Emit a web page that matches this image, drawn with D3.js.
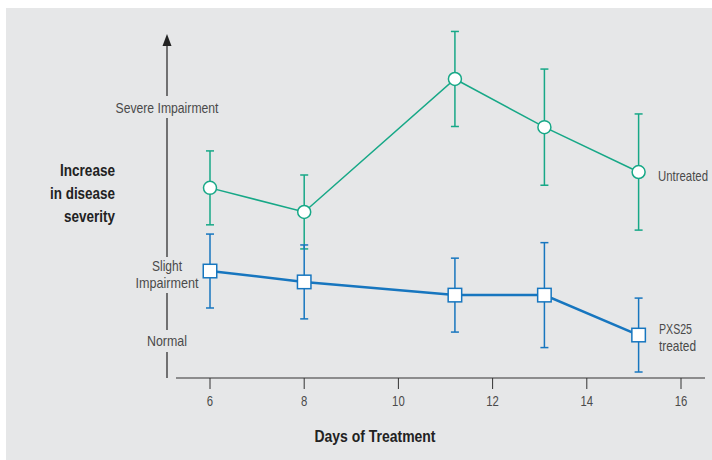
<!DOCTYPE html>
<html>
  <head>
    <script src="https://d3js.org/d3.v7.min.js"></script>
    <style>
      body { margin: 0; background: #fff; }
      svg { display: block; }
      text { font-family: "Liberation Sans", Arial, sans-serif; }
    </style>
  </head>
  <body>
    <svg width="712" height="460"></svg>
    <script>
      // days of treatment and mean severity score (0-10) with error bars
      const days = [6, 8, 11.2, 13.1, 15.1];
      const untreatedMean = [5.61, 4.88, 8.91, 7.45, 6.09];
      const untreatedErr = [1.12, 1.12, 1.44, 1.76, 1.76];
      const treatedMean = [3.09, 2.76, 2.36, 2.36, 1.15];
      const treatedErr = [1.12, 1.12, 1.12, 1.59, 1.12];
      const xTicks = [6, 8, 10, 12, 14, 16];
      const levelNames = [["Normal"], ["Slight", "Impairment"], ["Severe Impairment"]];
      const levelValues = [1.0, 3.0, 8.04];

      const green = "#17a887";
      const blue = "#1776bf";
      const ink = "#4a4a4a";

      // the original face is a condensed sans: squeeze to the measured widths
      function squeeze(sel, w) {
        sel.attr("textLength", w).attr("lengthAdjust", "spacingAndGlyphs");
        return sel;
      }
      const widths = {
        "Normal": 40, "Slight": 30, "Impairment": 63, "Severe Impairment": 103,
        "Increase": 55, "in disease": 65, "severity": 51, "Days of Treatment": 121,
        "Untreated": 50, "PXS25": 33, "treated": 37
      };

      const svg = d3.select("svg");
      svg.append("rect").attr("x", 6).attr("y", 8).attr("width", 706).attr("height", 452)
        .attr("fill", "#e6e7e8");

      const x = d3.scaleLinear().domain([6, 16]).range([210, 681]);
      const y = d3.scaleLinear().domain([0, 10]).range([373, 43]);
      const axisY = 378, axisX = 167;

      // x axis
      svg.append("line").attr("x1", 176).attr("x2", 705).attr("y1", axisY).attr("y2", axisY)
        .attr("stroke", "#333").attr("stroke-width", 1.2);
      const tk = svg.append("g");
      tk.selectAll("line").data(xTicks).join("line")
        .attr("x1", d => x(d)).attr("x2", d => x(d)).attr("y1", axisY).attr("y2", axisY + 11)
        .attr("stroke", "#333").attr("stroke-width", 1);
      tk.selectAll("text").data(xTicks).join("text")
        .attr("x", d => x(d)).attr("y", axisY + 28).attr("text-anchor", "middle")
        .attr("font-size", 15).attr("fill", ink).text(d => d)
        .attr("textLength", d => String(d).length * 6.3).attr("lengthAdjust", "spacingAndGlyphs");

      squeeze(svg.append("text").attr("x", 375).attr("y", 442).attr("text-anchor", "middle")
        .attr("font-size", 17).attr("font-weight", "bold").attr("fill", "#222")
        .text("Days of Treatment"), widths["Days of Treatment"]);

      // y axis with gaps for the level labels
      const gaps = [[352, 330], [293, 257], [118, 96]];
      const segs = [];
      let from = axisY;
      gaps.forEach(g => { segs.push([from, g[0]]); from = g[1]; });
      segs.push([from, 44]);
      svg.selectAll(".yseg").data(segs).join("line").attr("class", "yseg")
        .attr("x1", axisX).attr("x2", axisX).attr("y1", d => d[0]).attr("y2", d => d[1])
        .attr("stroke", "#222").attr("stroke-width", 1.2);
      svg.append("path").attr("d", `M${axisX},34 L${axisX - 4.5},46 L${axisX + 4.5},46 Z`)
        .attr("fill", "#222");

      levelNames.forEach((lines, i) => {
        const t = svg.append("text").attr("text-anchor", "middle").attr("font-size", 15)
          .attr("fill", ink);
        const y0 = y(levelValues[i]) - (lines.length - 1) * 9 + 5.5;
        lines.forEach((s, j) => {
          squeeze(t.append("tspan").attr("x", axisX).attr("y", y0 + j * 17.5).text(s), widths[s]);
        });
      });

      const yTitle = svg.append("text").attr("text-anchor", "end").attr("font-size", 17)
        .attr("font-weight", "bold").attr("fill", "#222");
      ["Increase", "in disease", "severity"].forEach((s, j) => {
        squeeze(yTitle.append("tspan").attr("x", 115).attr("y", 176 + j * 23).text(s), widths[s]);
      });

      function series(mean, err, color, width, shape) {
        const g = svg.append("g");
        const pts = days.map((d, i) => ({ d, m: mean[i], e: err[i] }));
        g.append("path").datum(pts)
          .attr("d", d3.line().x(p => x(p.d)).y(p => y(p.m)))
          .attr("fill", "none").attr("stroke", color).attr("stroke-width", width);
        const eb = g.selectAll(".eb").data(pts).join("g").attr("class", "eb");
        eb.append("line").attr("x1", p => x(p.d)).attr("x2", p => x(p.d))
          .attr("y1", p => y(p.m + p.e)).attr("y2", p => y(p.m - p.e))
          .attr("stroke", color).attr("stroke-width", 1.5);
        [1, -1].forEach(s => {
          eb.append("line").attr("x1", p => x(p.d) - 4).attr("x2", p => x(p.d) + 4)
            .attr("y1", p => y(p.m + s * p.e)).attr("y2", p => y(p.m + s * p.e))
            .attr("stroke", color).attr("stroke-width", 1.5);
        });
        if (shape === "circle") {
          g.selectAll(".mk").data(pts).join("circle").attr("class", "mk")
            .attr("cx", p => x(p.d)).attr("cy", p => y(p.m)).attr("r", 6.5)
            .attr("fill", "#fff").attr("stroke", color).attr("stroke-width", 1.5);
        } else {
          g.selectAll(".mk").data(pts).join("rect").attr("class", "mk")
            .attr("x", p => x(p.d) - 6.75).attr("y", p => y(p.m) - 6.75)
            .attr("width", 13.5).attr("height", 13.5)
            .attr("fill", "#fff").attr("stroke", color).attr("stroke-width", 1.5);
        }
      }

      series(untreatedMean, untreatedErr, green, 1.5, "circle");
      series(treatedMean, treatedErr, blue, 2.5, "square");

      squeeze(svg.append("text").attr("x", 658).attr("y", y(untreatedMean[4]) + 8.5)
        .attr("font-size", 15).attr("fill", ink).text("Untreated"), widths["Untreated"]);
      const lt = svg.append("text").attr("font-size", 15).attr("fill", ink);
      squeeze(lt.append("tspan").attr("x", 659).attr("y", 334).text("PXS25"), widths["PXS25"]);
      squeeze(lt.append("tspan").attr("x", 659).attr("y", 351).text("treated"), widths["treated"]);
    </script>
  </body>
</html>
